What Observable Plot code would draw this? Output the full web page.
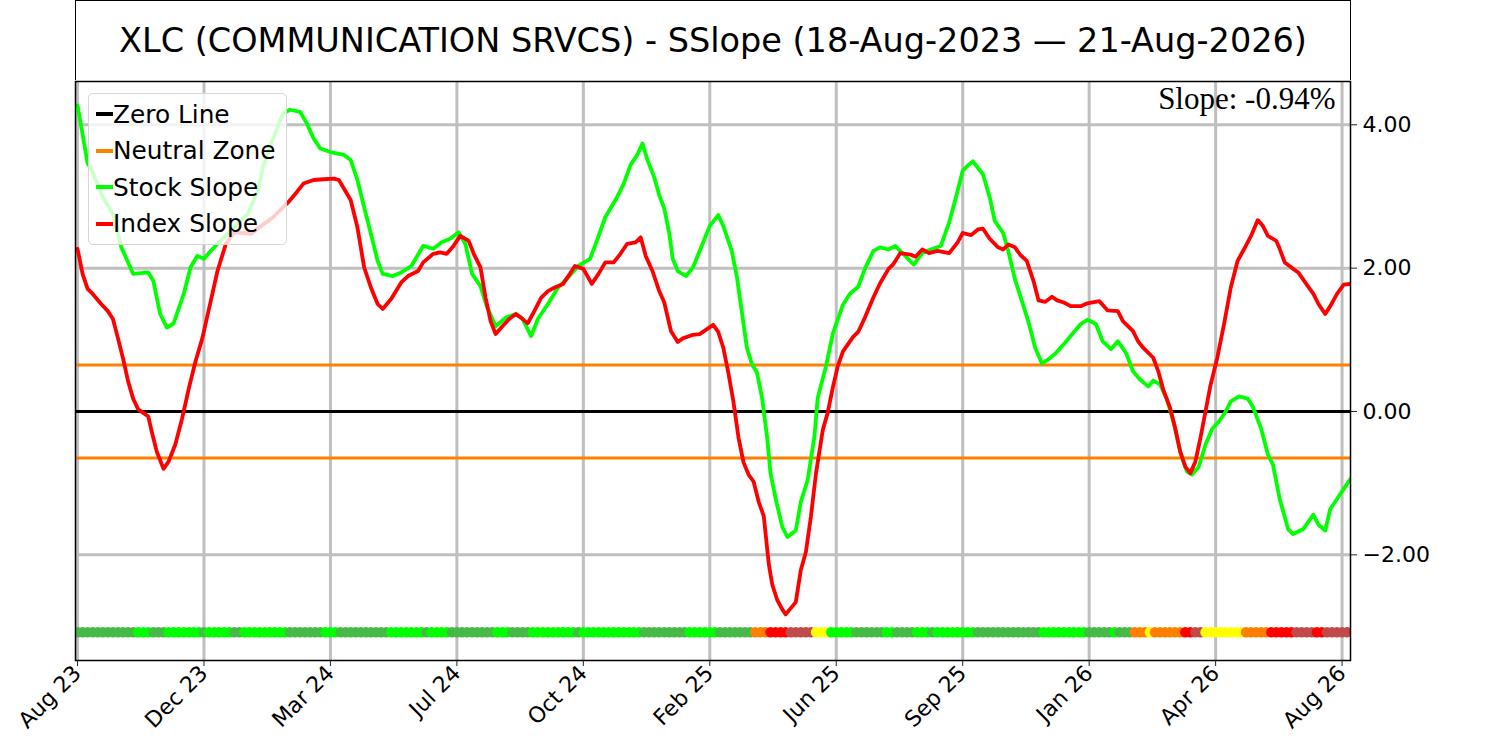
<!DOCTYPE html>
<html><head><meta charset="utf-8">
<script src="https://cdn.jsdelivr.net/npm/d3@7"></script>
<script src="https://cdn.jsdelivr.net/npm/@observablehq/plot@0.6"></script>
<style>
body{margin:0;background:#fff;font-family:"DejaVu Sans",sans-serif;}
#wrap{position:relative;width:1500px;height:741px;overflow:hidden;}
#title{position:absolute;left:75px;top:0;width:1276px;height:81px;box-sizing:border-box;border:1.5px solid #000;display:flex;align-items:center;justify-content:center;font-size:33.5px;color:#000;}
#chart{position:absolute;left:0;top:80px;}
#legend{position:absolute;left:88px;top:93px;width:199px;height:152px;box-sizing:border-box;border:1.5px solid #d6d6d6;border-radius:5px;background:rgba(255,255,255,0.8);}
.item{position:absolute;left:7px;height:36px;display:flex;align-items:center;font-size:24.8px;color:#000;white-space:nowrap;}
.sw{width:17px;height:4px;}
</style></head>
<body>
<div id="wrap">
  <div id="title"></div>
  <div id="chart"></div>
  <div id="legend"></div>
</div>
<script>
const titleText = "XLC (COMMUNICATION SRVCS) - SSlope (18-Aug-2023 \u2014 21-Aug-2026)";
const slopeText = "Slope: -0.94%";

// x axis (trading-day index) ticks and labels
const tickDays = [0, 75, 150, 225, 300, 375, 450, 525, 600, 675, 750];
const tickLabels = ["Aug 23", "Dec 23", "Mar 24", "Jul 24", "Oct 24", "Feb 25", "Jun 25", "Sep 25", "Jan 26", "Apr 26", "Aug 26"];
const yTicks = [-2, 0, 2, 4];
const zeroLine = [0];
const neutralZone = [0.65, -0.65];

// Stock slope
const stockDay = [0,6,8,15,21,26,30,33,42,45,
  49,53,57,63,67,71,75,79,83,91,
  101,107,110,114,122,126,132,136,140,144,
  150,158,162,166,170,174,178,181,187,192,
  198,205,211,216,221,226,230,234,239,243,
  248,254,260,264,269,273,279,285,291,297,
  304,308,313,320,324,328,332,335,338,342,
  345,348,351,353,356,361,365,369,375,380,
  383,388,391,394,397,400,403,406,409,411,
  414,418,421,426,429,433,437,439,444,448,
  454,458,463,467,472,476,481,485,490,496,
  501,506,512,517,521,525,528,531,537,541,
  544,549,552,556,560,564,568,572,576,580,
  585,590,595,599,604,608,613,617,622,626,
  630,635,638,642,646,650,654,658,661,665,
  669,673,677,681,684,689,694,697,702,706,
  709,713,718,721,727,730,733,736,740,743,
  747,751,755];
const stockVal = [4.27,3.46,3.39,2.99,2.76,2.29,2.08,1.92,1.94,1.82,
  1.36,1.17,1.23,1.64,2.01,2.17,2.13,2.24,2.34,2.52,
  2.76,3.08,3.41,3.69,4.16,4.21,4.18,4.02,3.81,3.67,
  3.62,3.58,3.51,3.23,2.85,2.48,2.10,1.92,1.89,1.94,
  2.03,2.31,2.27,2.36,2.41,2.50,2.34,1.92,1.75,1.45,
  1.19,1.31,1.36,1.29,1.05,1.29,1.50,1.73,1.87,2.03,
  2.13,2.38,2.71,2.99,3.18,3.44,3.58,3.74,3.51,3.27,
  3.02,2.83,2.48,2.13,1.96,1.89,2.01,2.24,2.59,2.74,
  2.59,2.24,1.89,1.39,0.89,0.66,0.54,0.19,-0.36,-0.86,
  -1.21,-1.61,-1.75,-1.66,-1.26,-0.96,-0.36,0.19,0.64,1.09,
  1.49,1.64,1.74,1.99,2.24,2.29,2.26,2.31,2.19,2.05,
  2.21,2.26,2.31,2.64,2.99,3.36,3.43,3.49,3.31,2.99,
  2.66,2.49,2.24,1.84,1.55,1.25,0.89,0.67,0.73,0.81,
  0.94,1.08,1.22,1.28,1.22,0.98,0.87,0.98,0.81,0.56,
  0.45,0.35,0.43,0.38,0.18,-0.14,-0.56,-0.84,-0.88,-0.77,
  -0.46,-0.24,-0.14,0.00,0.14,0.21,0.18,0.07,-0.24,-0.60,
  -0.74,-1.22,-1.64,-1.71,-1.64,-1.54,-1.44,-1.58,-1.66,-1.36,
  -1.22,-1.08,-0.94];

// Index slope
const indexDay = [0,3,6,9,14,18,21,24,27,30,
  33,36,42,44,47,51,54,58,62,66,
  70,74,79,83,88,93,103,109,116,125,
  130,134,140,146,152,155,158,162,166,170,
  174,178,181,186,192,196,202,205,211,215,
  219,223,227,232,235,239,242,245,248,252,
  256,260,263,267,270,275,279,283,288,292,
  295,300,305,309,313,318,322,326,331,334,
  337,341,345,348,352,356,359,365,369,374,
  377,380,383,386,389,392,395,398,401,404,
  407,410,412,415,418,420,426,429,432,435,
  438,440,442,445,448,451,454,460,463,467,
  472,476,481,484,488,494,497,501,505,510,
  517,522,525,530,534,537,541,546,549,552,
  556,559,563,567,570,574,578,581,585,589,
  595,599,606,611,617,620,626,629,632,638,
  641,644,648,651,654,657,660,663,666,669,
  672,676,680,684,688,692,696,700,703,706,
  711,713,716,721,724,730,733,736,740,743,
  747,751,755];
const indexVal = [2.27,1.92,1.71,1.64,1.50,1.40,1.29,1.02,0.74,0.42,
  0.18,0.03,-0.07,-0.28,-0.56,-0.80,-0.70,-0.46,-0.10,0.32,
  0.70,1.02,1.54,1.96,2.34,2.50,2.48,2.59,2.71,2.92,
  3.06,3.18,3.23,3.24,3.25,3.23,3.11,2.95,2.57,2.01,
  1.73,1.50,1.43,1.57,1.80,1.89,1.96,2.08,2.20,2.22,
  2.20,2.31,2.45,2.38,2.20,2.01,1.59,1.26,1.08,1.19,
  1.29,1.36,1.31,1.23,1.36,1.59,1.68,1.73,1.78,1.92,
  2.03,1.99,1.78,1.92,2.08,2.08,2.20,2.34,2.36,2.43,
  2.17,1.96,1.68,1.52,1.12,0.97,1.02,1.07,1.08,1.16,
  1.21,1.11,0.89,0.54,0.14,-0.36,-0.71,-0.88,-0.98,-1.26,
  -1.46,-2.13,-2.41,-2.63,-2.76,-2.83,-2.66,-2.21,-1.96,-1.46,
  -0.86,-0.56,-0.26,-0.01,0.34,0.64,0.84,1.04,1.11,1.31,
  1.59,1.79,1.99,2.06,2.21,2.19,2.16,2.26,2.21,2.24,
  2.21,2.36,2.49,2.46,2.54,2.55,2.41,2.29,2.26,2.33,
  2.29,2.19,2.10,1.82,1.55,1.53,1.60,1.55,1.52,1.47,
  1.47,1.51,1.54,1.41,1.40,1.26,1.12,0.98,0.89,0.75,
  0.56,0.30,0.05,-0.23,-0.56,-0.77,-0.86,-0.70,-0.37,0.00,
  0.37,0.75,1.22,1.73,2.10,2.27,2.45,2.67,2.59,2.45,
  2.38,2.27,2.08,1.99,1.94,1.74,1.64,1.50,1.36,1.47,
  1.64,1.77,1.78];

// Status strip: one code per 3 trading days
// D = strong (dark green), L = bullish (lime), O = neutral (orange), R = bearish (red), B = weak (brown-red), Y = caution (yellow)
const stripCodes = [
  "DDDDDDDDDDDD","LLL","DDD","LLLLLLL","D","LLLLL","DD","LLLLLLLLL","DDDDDDD","LLL",
  "DDDDDDDDDD","LLLLLLL","D","LLLL","DDDDDDDDD","LLL","DDDD","LLLLLLLLL","D","LLLLLLLLLLLL",
  "DDDDDDDDD","LLLLLL","DDDDDDD","OOO","RRRR","BBBBB","YYY","LLLLL","DDDDDD","LL",
  "DDDD","LLL","D","LLLLLLLL","DDDDDDDDDDDDD","LLLLLLLLL","DDDDD","L","DDD","OOO",
  "Y","OOOOOO","RR","BB","YYYYYYYY","OOOOO","RRRRR","BBBB","RR","BBBBB"
].join("").split("");
const stripStep = 3;
const stripLevel = -3.08;
const stripColors = {D: "#46b946", L: "#00ff00", O: "#ff8000", R: "#ff0000", B: "#c04a4a", Y: "#ffff00"};

const legendItems = [
  {label: "Zero Line", color: "#000000"},
  {label: "Neutral Zone", color: "#ff8000"},
  {label: "Stock Slope", color: "#00ff00"},
  {label: "Index Slope", color: "#ff0000"}
];

const stock = stockDay.map((d, i) => ({d, v: stockVal[i]}));
const index = indexDay.map((d, i) => ({d, v: indexVal[i]}));
const strip = stripCodes.map((c, i) => ({d: i * stripStep, v: stripLevel, c}));

document.getElementById("title").textContent = titleText;

const chart = Plot.plot({
  width: 1500,
  height: 661,
  marginLeft: 75,
  marginRight: 150,
  marginTop: 1,
  marginBottom: 81,
  x: {domain: [-1.2, 755]},
  y: {domain: [-3.474, 4.604]},
  style: {fontFamily: "DejaVu Sans", fontSize: "22px", color: "#000", background: "#fff"},
  marks: [
    Plot.gridX(tickDays, {stroke: "#bfbfbf", strokeOpacity: 1, strokeWidth: 3}),
    Plot.gridY(yTicks, {stroke: "#bfbfbf", strokeOpacity: 1, strokeWidth: 3}),
    Plot.ruleY(zeroLine, {stroke: "#000", strokeWidth: 3}),
    Plot.ruleY(neutralZone, {stroke: "#ff8000", strokeWidth: 3}),
    Plot.dot(strip, {x: "d", y: "v", r: 5.2, fill: d => stripColors[d.c], stroke: null, clip: true}),
    Plot.line(stock, {x: "d", y: "v", stroke: "#00ff00", strokeWidth: 3.8, clip: true}),
    Plot.line(index, {x: "d", y: "v", stroke: "#ff0000", strokeWidth: 3.8, clip: true}),
    Plot.frame({stroke: "#000", strokeWidth: 1.5}),
    Plot.axisX(tickDays, {anchor: "bottom", tickRotate: -45, tickSize: 6, tickPadding: 3, tickFormat: d => tickLabels[tickDays.indexOf(d)], label: null, fontSize: 22, stroke: "#222"}),
    Plot.axisY(yTicks, {anchor: "right", tickSize: 6, tickPadding: 6, tickFormat: d3.format(".2f"), label: null, fontSize: 22, stroke: "#222"}),
    Plot.text([slopeText], {frameAnchor: "top-right", textAnchor: "end", lineAnchor: "top", dx: -15, dy: 5, fontFamily: "Liberation Serif", fontSize: 31, fill: "#000"})
  ]
});
document.getElementById("chart").appendChild(chart);

const leg = document.getElementById("legend");
legendItems.forEach((it, i) => {
  const row = document.createElement("div");
  row.className = "item";
  row.style.top = (2 + i * 36.5) + "px";
  const sw = document.createElement("span");
  sw.className = "sw";
  sw.style.background = it.color;
  const tx = document.createElement("span");
  tx.textContent = it.label;
  row.appendChild(sw);
  row.appendChild(tx);
  leg.appendChild(row);
});
</script>
</body></html>
